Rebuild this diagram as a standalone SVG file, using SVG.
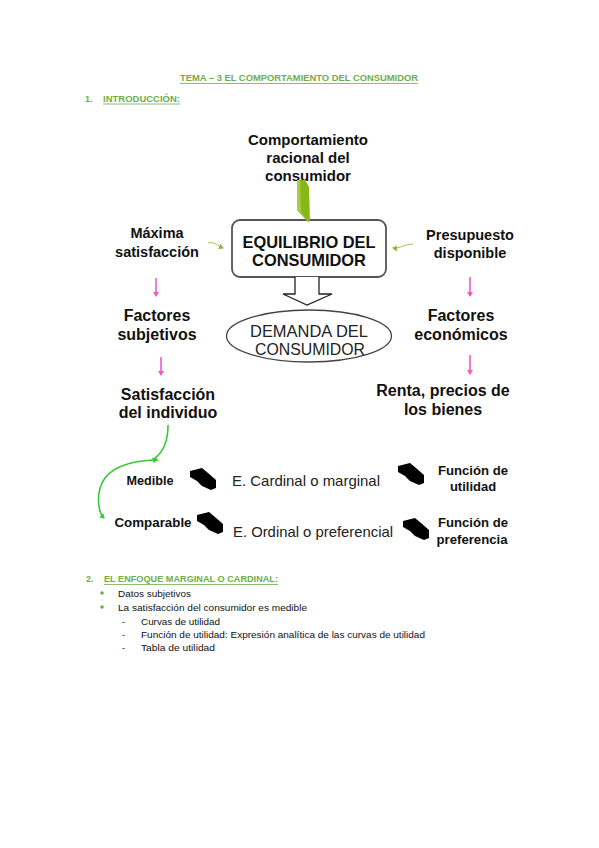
<svg xmlns="http://www.w3.org/2000/svg" width="599" height="848" viewBox="0 0 599 848">
<defs>
<style>
.doc{font-family:"Liberation Sans",Arial,sans-serif;font-size:9px;fill:#111}
.hd{font-family:"Liberation Sans",Arial,sans-serif;font-size:9px;fill:#70AD47;font-weight:bold}
.ul{stroke:#70AD47;stroke-width:0.8}
.b{font-family:"Liberation Sans",Arial,sans-serif;font-weight:bold;fill:#111;text-anchor:middle}
.r{font-family:"Liberation Sans",Arial,sans-serif;fill:#222}
.pink{stroke:#F25ACB;stroke-width:1.6;fill:none}
.olive{stroke:#A7C24E;stroke-width:1;fill:none}
.grn{stroke:#3CC63C;stroke-width:1.6;fill:none}
.blk{fill:#000}
</style>
<marker id="mp" markerWidth="8" markerHeight="8" refX="4" refY="4" orient="auto" markerUnits="userSpaceOnUse"><path d="M0,1 L5,4 L0,7 Z" fill="#F25ACB"/></marker>
<marker id="mo" markerWidth="8" markerHeight="8" refX="4" refY="4" orient="auto" markerUnits="userSpaceOnUse"><path d="M0,1 L5,4 L0,7 Z" fill="#8DB33A"/></marker>
<marker id="mg" markerWidth="8" markerHeight="8" refX="4" refY="4" orient="auto" markerUnits="userSpaceOnUse"><path d="M0,1 L5,4 L0,7 Z" fill="#3CC63C"/></marker>
<path id="ba" d="M0,3 L12,0 L18,5 L26,12 L26,20 L21,22 L12,18 L7,13 L0,9 Z"/>
</defs>
<rect width="599" height="848" fill="#fff"/>

<g id="header">
<text class="hd" x="180" y="81" textLength="238" lengthAdjust="spacingAndGlyphs">TEMA – 3 EL COMPORTAMIENTO DEL CONSUMIDOR</text>
<line class="ul" x1="180" y1="83.5" x2="418" y2="83.5"/>
<text class="hd" x="85" y="101.5">1.</text>
<text class="hd" x="103" y="101.5" textLength="77" lengthAdjust="spacingAndGlyphs">INTRODUCCIÓN:</text>
<line class="ul" x1="103" y1="104" x2="180" y2="104"/>
</g>

<g id="n-comportamiento">
<text class="b" font-size="15" x="308" y="145">Comportamiento</text>
<text class="b" font-size="15" x="308" y="163">racional del</text>
<text class="b" font-size="15" x="308" y="181">consumidor</text>
</g>

<g id="n-equilibrio">
<rect x="232" y="220" width="154" height="57" rx="8" fill="#fff" stroke="#555" stroke-width="1.8"/>
<text class="b" font-size="16.4" x="309" y="248" textLength="133" lengthAdjust="spacingAndGlyphs">EQUILIBRIO DEL</text>
<text class="b" font-size="16.4" x="309" y="266">CONSUMIDOR</text>
</g>

<g id="n-maxima">
<text class="b" font-size="14.5" x="157" y="238">Máxima</text>
<text class="b" font-size="14.5" x="157" y="257">satisfacción</text>
</g>

<g id="n-presupuesto">
<text class="b" font-size="14.5" x="470" y="240">Presupuesto</text>
<text class="b" font-size="14.5" x="470" y="258">disponible</text>
</g>

<g id="n-demanda">
<ellipse cx="309" cy="336" rx="82.5" ry="26" fill="#fff" stroke="#444" stroke-width="1.3"/>
<text class="r" font-size="16" x="309" y="337" text-anchor="middle" textLength="118" lengthAdjust="spacingAndGlyphs">DEMANDA DEL</text>
<text class="r" font-size="16" x="310" y="355" text-anchor="middle" textLength="110" lengthAdjust="spacingAndGlyphs">CONSUMIDOR</text>
</g>

<g id="n-factores-subj">
<text class="b" font-size="16" x="157" y="321">Factores</text>
<text class="b" font-size="16" x="157" y="340">subjetivos</text>
</g>

<g id="n-factores-econ">
<text class="b" font-size="16" x="461" y="321">Factores</text>
<text class="b" font-size="16" x="461" y="340">económicos</text>
</g>

<g id="n-satisfaccion">
<text class="b" font-size="16" x="168" y="400">Satisfacción</text>
<text class="b" font-size="16" x="168" y="418">del individuo</text>
</g>

<g id="n-renta">
<text class="b" font-size="16" x="443" y="396">Renta, precios de</text>
<text class="b" font-size="16" x="443" y="415">los bienes</text>
</g>

<g id="n-medible">
<text class="b" font-size="12.5" x="150" y="485" textLength="47" lengthAdjust="spacingAndGlyphs">Medible</text>
</g>
<g id="n-comparable">
<text class="b" font-size="13" x="153" y="527" textLength="77" lengthAdjust="spacingAndGlyphs">Comparable</text>
</g>
<g id="n-cardinal">
<text class="r" font-size="15" x="232" y="486" textLength="148" lengthAdjust="spacingAndGlyphs">E. Cardinal o marginal</text>
</g>
<g id="n-ordinal">
<text class="r" font-size="15" x="233" y="537" textLength="160" lengthAdjust="spacingAndGlyphs">E. Ordinal o preferencial</text>
</g>
<g id="n-funcion-utilidad">
<text class="b" font-size="13" x="473" y="475" textLength="70" lengthAdjust="spacingAndGlyphs">Función de</text>
<text class="b" font-size="13" x="473" y="491">utilidad</text>
</g>
<g id="n-funcion-preferencia">
<text class="b" font-size="13" x="473" y="527" textLength="70" lengthAdjust="spacingAndGlyphs">Función de</text>
<text class="b" font-size="13" x="472" y="544" textLength="71" lengthAdjust="spacingAndGlyphs">preferencia</text>
</g>

<g id="connectors">
<polygon points="297,180 305,180 309,187 310,221 308,222 297,210" fill="#86B817"/>
<polygon points="297,180 300,180 301,212 308,222 297,210" fill="#A6CC4A"/>
<path class="olive" d="M208,243 C214,241 218,246 223,248" marker-end="url(#mo)"/>
<path class="olive" d="M413,244 C405,244 400,249 393,248" marker-end="url(#mo)"/>
<path class="pink" d="M156,278 L156,296" marker-end="url(#mp)"/>
<path class="pink" d="M470,277 L470,296" marker-end="url(#mp)"/>
<path class="pink" d="M161,357 L161,375" marker-end="url(#mp)"/>
<path class="pink" d="M470,355 L470,374" marker-end="url(#mp)"/>
<path d="M295,277 L295,294 L283,294 L307,305 L332,294 L319,294 L319,277" fill="#fff" stroke="#222" stroke-width="1.3"/>
<path class="grn" d="M168,425 C168,440 163,452 155,458 L154,462" marker-end="url(#mg)"/>
<path class="grn" d="M158,460 C140,460 115,464 105,478 C95,492 98,512 104,518" marker-end="url(#mg)"/>
<use href="#ba" class="blk" x="190" y="468"/>
<use href="#ba" class="blk" x="398" y="463"/>
<use href="#ba" class="blk" x="197" y="512"/>
<use href="#ba" class="blk" x="403" y="518"/>
</g>

<g id="section2">
<text class="hd" x="86" y="582">2.</text>
<text class="hd" x="104" y="582" textLength="174" lengthAdjust="spacingAndGlyphs">EL ENFOQUE MARGINAL O CARDINAL:</text>
<line class="ul" x1="104" y1="584.5" x2="278" y2="584.5"/>
<circle cx="102" cy="593" r="1.8" fill="#70AD47"/>
<text class="doc" x="118" y="597" textLength="73" lengthAdjust="spacingAndGlyphs">Datos subjetivos</text>
<circle cx="102" cy="607" r="1.8" fill="#70AD47"/>
<text class="doc" x="118" y="611" textLength="189" lengthAdjust="spacingAndGlyphs">La satisfacción del consumidor es medible</text>
<text class="doc" x="122" y="625">-</text>
<text class="doc" x="141" y="625" textLength="79" lengthAdjust="spacingAndGlyphs">Curvas de utilidad</text>
<text class="doc" x="122" y="638">-</text>
<text class="doc" x="141" y="638" textLength="284" lengthAdjust="spacingAndGlyphs">Función de utilidad: Expresión analítica de las curvas de utilidad</text>
<text class="doc" x="122" y="651">-</text>
<text class="doc" x="141" y="651" textLength="74" lengthAdjust="spacingAndGlyphs">Tabla de utilidad</text>
</g>
</svg>
